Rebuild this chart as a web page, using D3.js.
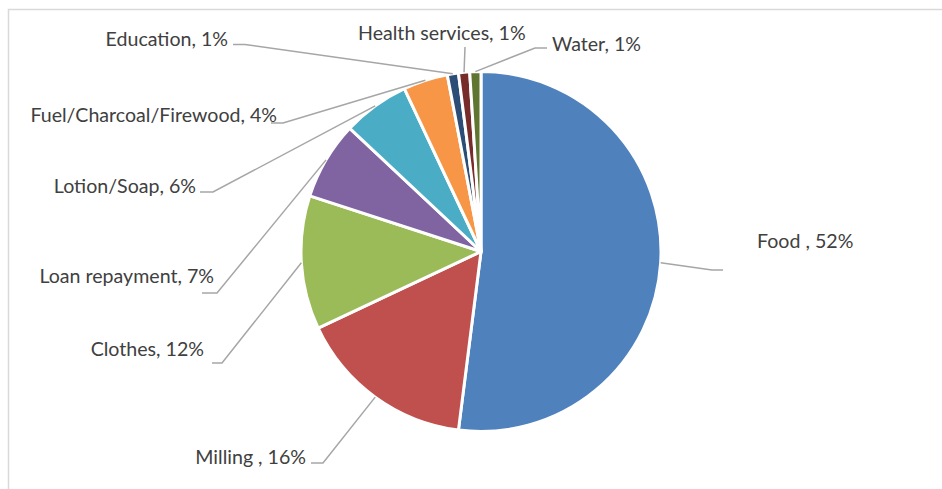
<!DOCTYPE html>
<html>
<head>
<meta charset="utf-8">
<script src="https://cdn.jsdelivr.net/npm/d3@7"></script>
<style>
  html, body { margin: 0; padding: 0; background: #fff; }
  svg { display: block; }
</style>
</head>
<body>
<svg id="chart" width="942" height="489"></svg>
<script>
// ---- data ----
const categories = ["Food ", "Milling ", "Clothes", "Loan repayment", "Lotion/Soap", "Fuel/Charcoal/Firewood", "Education", "Health services", "Water"];
const values = [52, 16, 12, 7, 6, 4, 1, 1, 1];
const colors = ["#4F81BD", "#C0504D", "#9BBB59", "#8064A2", "#4BACC6", "#F79646", "#2C4D75", "#772C2A", "#5F7530"];

// ---- label layout (manual placement, like the source) ----
const labelLayout = [
  { tx: 757, ty: 248, anchor: "start", elbow: [712, 270], end: [723, 270] },
  { tx: 306, ty: 464, anchor: "end",   elbow: [323, 463], end: [311, 463] },
  { tx: 204, ty: 356, anchor: "end",   elbow: [222, 363], end: [212, 363] },
  { tx: 214, ty: 283, anchor: "end",   elbow: [217, 293], end: [202, 293] },
  { tx: 196, ty: 193, anchor: "end",   elbow: [213, 192], end: [200, 192] },
  { tx: 277, ty: 122, anchor: "end",   elbow: [283, 123], end: [271, 123] },
  { tx: 228, ty: 46,  anchor: "end",   elbow: [245, 44.5], end: [233, 44.5] },
  { tx: 358, ty: 40,  anchor: "start", elbow: [465, 47], end: [465, 47] },
  { tx: 552, ty: 51,  anchor: "start", elbow: [535, 48], end: [547, 48] }
];

const svg = d3.select("#chart");
const W = 942, H = 489;
const cx = 481, cy = 251.5, R = 180;

// chart border
svg.append("rect")
  .attr("x", 8.5).attr("y", 9.5)
  .attr("width", W + 20).attr("height", H + 20)
  .attr("fill", "#fff").attr("stroke", "#d9d9d9").attr("stroke-width", 1.5);

const total = d3.sum(values);
const data = categories.map((c, i) => ({ cat: c, value: values[i], i }));
const pie = d3.pie().value(d => d.value).sort(null);
const arcs = pie(data);
const arc = d3.arc().innerRadius(0).outerRadius(R);

const g = svg.append("g").attr("transform", `translate(${cx},${cy})`);
g.selectAll("path.slice")
  .data(arcs)
  .join("path")
  .attr("class", "slice")
  .attr("d", arc)
  .attr("fill", d => colors[d.data.i])
  .attr("stroke", "#fff")
  .attr("stroke-width", 3)
  .attr("stroke-linejoin", "round");

// leader lines
const edge = d => {
  const a = (d.startAngle + d.endAngle) / 2;
  return [cx + R * Math.sin(a), cy - R * Math.cos(a)];
};
svg.selectAll("polyline.leader")
  .data(arcs)
  .join("polyline")
  .attr("class", "leader")
  .attr("points", d => {
    const L = labelLayout[d.data.i];
    const p = edge(d);
    return [p, L.elbow, L.end].map(q => q.join(",")).join(" ");
  })
  .attr("fill", "none")
  .attr("stroke", "#a6a6a6")
  .attr("stroke-width", 1.5);

// labels
svg.selectAll("text.lbl")
  .data(arcs)
  .join("text")
  .attr("class", "lbl")
  .attr("x", d => labelLayout[d.data.i].tx)
  .attr("y", d => labelLayout[d.data.i].ty)
  .attr("text-anchor", d => labelLayout[d.data.i].anchor)
  .attr("font-family", "Lato, 'Open Sans', sans-serif")
  .attr("font-size", 19.6)
  .attr("fill", "#404040")
  .text(d => `${d.data.cat}, ${Math.round(d.data.value / total * 100)}%`);
</script>
</body>
</html>
